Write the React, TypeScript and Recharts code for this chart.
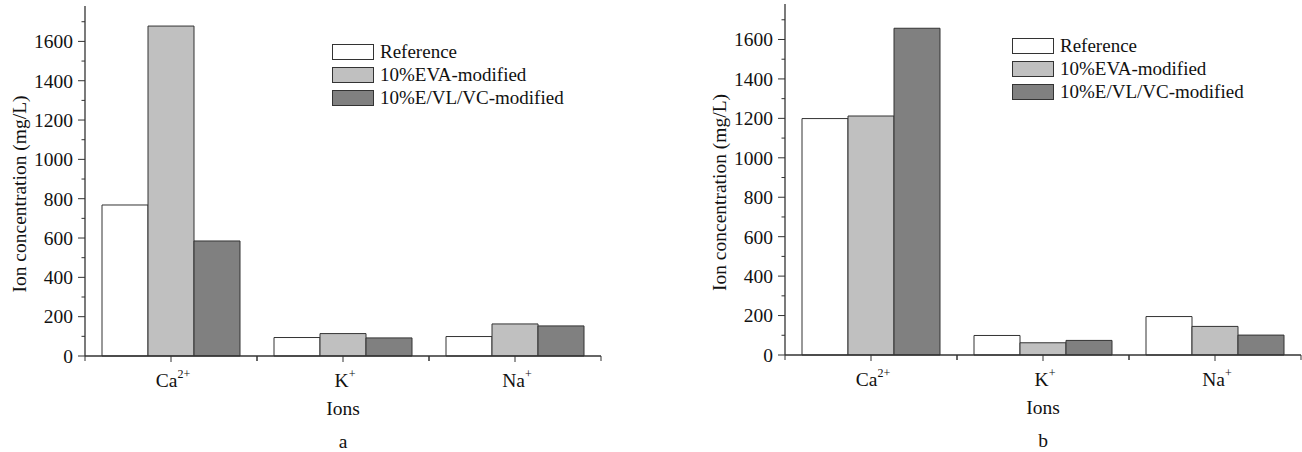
import { BarChart, Bar, XAxis, YAxis } from 'recharts';

const ions = ['Ca', 'K', 'Na'];
const charges = ['2+', '+', '+'];
const seriesNames = ['Reference', '10%EVA-modified', '10%E/VL/VC-modified'];

// panel a
const referenceA = [768, 94, 99];
const evaA = [1678, 114, 163];
const evlvcA = [585, 92, 153];

// panel b
const referenceB = [1199, 99, 195];
const evaB = [1212, 62, 145];
const evlvcB = [1657, 74, 101];

const yTicks = [0, 100, 200, 300, 400, 500, 600, 700, 800, 900, 1000, 1100, 1200, 1300, 1400, 1500, 1600, 1700];
const yDomain = [0, 1780];

// note: a data key called "ref" gets spread onto the bar rectangles and breaks React
const seriesKeys = ['plain', 'eva', 'evlvc'];
const fills = ['#ffffff', '#c0c0c0', '#808080'];
const FONT = '"Liberation Serif", "Times New Roman", serif';
const FS = 19.5;
const INK = '#111';
const EDGE = '#333';
const HEIGHT = 452;

function buildRows(plain: number[], eva: number[], evlvc: number[]) {
  return ions.map((ion, i) => ({ ion, plain: plain[i], eva: eva[i], evlvc: evlvc[i] }));
}

interface PanelProps {
  rows: any[];
  letter: string;
  left: number;
  width: number;
  yAxisWidth: number;
  top: number;
  right: number;
  xAxisHeight: number;
  legendLeft: number;
  legendTop: number;
}

function Panel(p: PanelProps) {
  const plotLeft = p.yAxisWidth;
  const plotRight = p.width - p.right;
  const plotTop = p.top;
  const plotBottom = HEIGHT - p.xAxisHeight;
  const band = (plotRight - plotLeft) / p.rows.length;

  const yTick = (props: any) => {
    const { y, payload } = props;
    const major = payload.value % 200 === 0;
    return (
      <g>
        <line x1={plotLeft - (major ? 7 : 3.5)} x2={plotLeft} y1={y} y2={y} stroke={EDGE} strokeWidth={1} />
        {major ? (
          <text x={plotLeft - 12} y={y} dy="0.35em" textAnchor="end" fontFamily={FONT} fontSize={FS} fill={INK}>
            {payload.value}
          </text>
        ) : null}
      </g>
    );
  };

  const xTick = (props: any) => {
    const { x, payload, index } = props;
    return (
      <g>
        <line x1={x} x2={x} y1={plotBottom} y2={plotBottom + 6} stroke={EDGE} />
        <line x1={x - band / 2} x2={x - band / 2} y1={plotBottom} y2={plotBottom + 5} stroke={EDGE} />
        <line x1={x + band / 2} x2={x + band / 2} y1={plotBottom} y2={plotBottom + 5} stroke={EDGE} />
        <text x={x + 2} y={plotBottom + 31} textAnchor="middle" fontFamily={FONT} fontSize={FS} fill={INK}>
          {payload.value}
          <tspan dy={-9} fontSize={12}>{charges[index]}</tspan>
        </text>
      </g>
    );
  };

  const xLabel = () => (
    <g fontFamily={FONT} fontSize={FS} fill={INK} textAnchor="middle">
      <text x={(plotLeft + plotRight) / 2} y={plotBottom + 59}>Ions</text>
      <text x={(plotLeft + plotRight) / 2} y={plotBottom + 92}>{p.letter}</text>
    </g>
  );

  const yLabel = () => {
    const cx = plotLeft - 66;
    const cy = (plotTop + plotBottom) / 2 + 13;
    return (
      <text
        x={cx}
        y={cy}
        dy="0.35em"
        transform={`rotate(-90, ${cx}, ${cy})`}
        textAnchor="middle"
        fontFamily={FONT}
        fontSize={FS}
        fill={INK}
      >
        Ion concentration (mg/L)
      </text>
    );
  };

  return (
    <div style={{ position: 'absolute', left: p.left, top: 0, width: p.width, height: HEIGHT }}>
      <BarChart
        width={p.width}
        height={HEIGHT}
        data={p.rows}
        margin={{ top: p.top, right: p.right, left: 0, bottom: 0 }}
        barCategoryGap={17}
        barGap={0}
      >
        <XAxis
          dataKey="ion"
          height={p.xAxisHeight}
          interval={0}
          axisLine={{ stroke: EDGE, strokeWidth: 1.3 }}
          tickLine={false}
          tick={xTick}
          label={xLabel}
        />
        <XAxis
          xAxisId="top"
          dataKey="ion"
          orientation="top"
          height={0}
          tick={false}
          tickLine={false}
          axisLine={{ stroke: EDGE, strokeWidth: 1.3 }}
        />
        <YAxis
          type="number"
          domain={yDomain}
          ticks={yTicks}
          interval={0}
          width={p.yAxisWidth}
          axisLine={{ stroke: EDGE, strokeWidth: 1.3 }}
          tickLine={false}
          tick={yTick}
          label={yLabel}
        />
        <YAxis
          yAxisId="right"
          orientation="right"
          type="number"
          domain={yDomain}
          ticks={yTicks}
          interval={0}
          width={0}
          tick={false}
          tickSize={2}
          tickLine={{ stroke: EDGE }}
          axisLine={{ stroke: EDGE, strokeWidth: 1.3 }}
        />
        {seriesKeys.map((k, i) => (
          <Bar
            key={k}
            dataKey={k}
            name={seriesNames[i]}
            fill={fills[i]}
            stroke={EDGE}
            strokeWidth={1}
            isAnimationActive={false}
          />
        ))}
      </BarChart>
      <div
        style={{
          position: 'absolute',
          left: p.legendLeft,
          top: p.legendTop,
          fontFamily: FONT,
          fontSize: 19,
          color: INK,
          lineHeight: '23px',
        }}
      >
        {seriesNames.map((name, i) => (
          <div key={name} style={{ display: 'flex', alignItems: 'center', height: 23, whiteSpace: 'nowrap' }}>
            <span
              style={{
                display: 'inline-block',
                width: 40,
                height: 14,
                border: `1px solid ${EDGE}`,
                background: fills[i],
                marginRight: 6,
              }}
            />
            <span>{name}</span>
          </div>
        ))}
      </div>
    </div>
  );
}

export default function App() {
  return (
    <div style={{ position: 'absolute', left: 0, top: 0, width: 1302, height: HEIGHT, background: '#fff', overflow: 'hidden' }}>
      <Panel
        rows={buildRows(referenceA, evaA, evlvcA)}
        letter="a"
        left={0}
        width={651}
        yAxisWidth={85}
        top={6}
        right={50}
        xAxisHeight={96}
        legendLeft={332}
        legendTop={40}
      />
      <Panel
        rows={buildRows(referenceB, evaB, evlvcB)}
        letter="b"
        left={651}
        width={651}
        yAxisWidth={134}
        top={4}
        right={1}
        xAxisHeight={97}
        legendLeft={361}
        legendTop={34}
      />
    </div>
  );
}
